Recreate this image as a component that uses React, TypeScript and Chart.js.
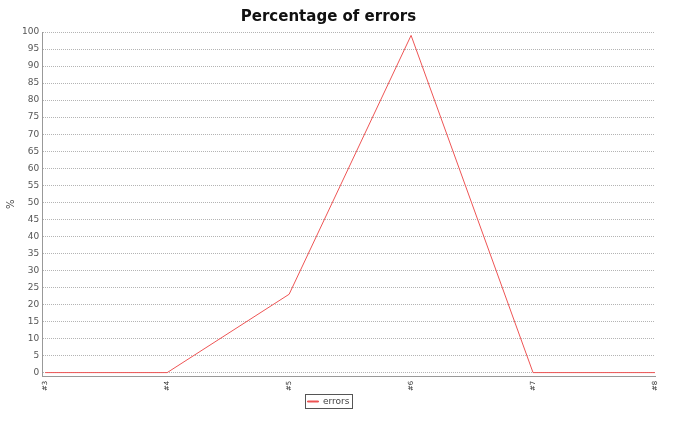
import React, { useEffect, useRef } from "react";
import { Chart, registerables } from "chart.js";

Chart.register(...registerables);

const categories: string[] = ["#3", "#4", "#5", "#6", "#7", "#8"];
const errorValues: number[] = [0, 0, 23, 99, 0, 0];
const yTicks: number[] = [0, 5, 10, 15, 20, 25, 30, 35, 40, 45, 50, 55, 60, 65, 70, 75, 80, 85, 90, 95, 100];

const FONT = "'DejaVu Sans', sans-serif";

const legendBox = {
  id: "legendBox",
  afterDraw(chart: any) {
    const lg = chart.legend;
    if (!lg || !lg.legendHitBoxes || !lg.legendHitBoxes.length) return;
    const hb = lg.legendHitBoxes[0];
    const ctx = chart.ctx;
    ctx.save();
    ctx.strokeStyle = "#555";
    ctx.lineWidth = 1;
    ctx.strokeRect(Math.round(hb.left - 3) + 0.5, Math.round(hb.top - 3) + 0.5, Math.round(hb.width + 5), Math.round(hb.height + 5));
    ctx.restore();
  },
};

export default function App() {
  const ref = useRef<HTMLCanvasElement | null>(null);
  useEffect(() => {
    if (!ref.current) return;
    const chart = new Chart(ref.current, {
      type: "line",
      data: {
        datasets: [
          {
            label: "errors",
            data: errorValues.map((v, i) => ({ x: i, y: v })),
            borderColor: "#ee5555",
            backgroundColor: "#ee5555",
            borderWidth: 1,
            pointRadius: 0,
            tension: 0,
          },
        ],
      },
      plugins: [legendBox],
      options: {
        animation: false,
        responsive: false,
        layout: { padding: { left: 2, right: 33, top: 4, bottom: 6 } },
        plugins: {
          title: {
            display: true,
            text: "Percentage of errors",
            color: "#111",
            font: { family: FONT, size: 15, weight: "bold" },
            padding: { top: 4, bottom: 6 },
          },
          legend: {
            display: true,
            position: "bottom",
            labels: {
              boxWidth: 11,
              boxHeight: 1,
              padding: 2,
              color: "#444",
              font: { family: FONT, size: 9 },
            },
          },
          tooltip: { enabled: false },
        },
        scales: {
          x: {
            type: "linear",
            min: -0.025,
            max: categories.length - 1,
            afterBuildTicks: (axis: any) => {
              axis.ticks = categories.map((_, i) => ({ value: i }));
            },
            ticks: {
              minRotation: 90,
              maxRotation: 90,
              autoSkip: false,
              padding: 4,
              color: "#333",
              font: { family: FONT, size: 7 },
              callback: (v: any) => categories[Math.round(Number(v))] ?? "",
            },
            grid: { display: false, drawTicks: false },
            border: { display: true, color: "#999", width: 1 },
          },
          y: {
            type: "linear",
            min: -1.2,
            max: 100,
            afterBuildTicks: (axis: any) => {
              axis.ticks = yTicks.map((v) => ({ value: v }));
            },
            title: {
              display: true,
              text: "%",
              color: "#444",
              font: { family: FONT, size: 10 },
              padding: { top: 3, bottom: 2 },
            },
            ticks: {
              padding: 3,
              color: "#555",
              font: { family: FONT, size: 9 },
              callback: (v: any) => String(v),
            },
            grid: { display: true, color: "#b4b4b4", lineWidth: 1, drawTicks: false },
            border: { display: true, color: "#999", width: 1, dash: [1, 1] },
          },
        },
      },
    } as any);
    return () => chart.destroy();
  }, []);
  return (
    <div style={{ position: "absolute", left: 0, top: 0, width: 688, height: 422, background: "#fff" }}>
      <canvas ref={ref} width={688} height={422} />
    </div>
  );
}
